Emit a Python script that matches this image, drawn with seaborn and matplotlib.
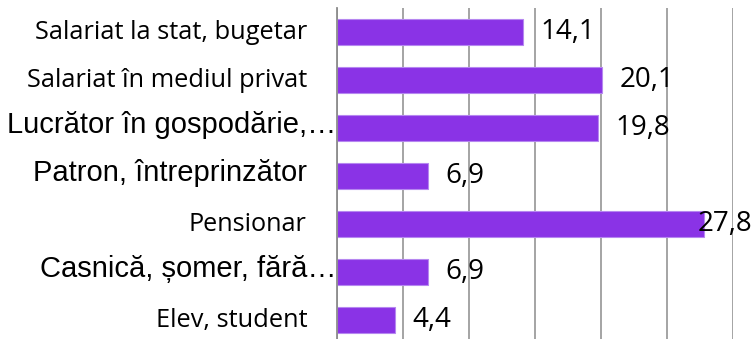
import matplotlib
matplotlib.use("Agg")
import matplotlib.pyplot as plt
import matplotlib.transforms as mtransforms
import seaborn as sns
import pandas as pd

categories = [
    "Salariat la stat, bugetar",
    "Salariat în mediul privat",
    "Lucrător în gospodărie,…",
    "Patron, întreprinzător",
    "Pensionar",
    "Casnică, șomer, fără…",
    "Elev, student",
]
values = [14.1, 20.1, 19.8, 6.9, 27.8, 6.9, 4.4]
value_labels = ["14,1", "20,1", "19,8", "6,9", "27,8", "6,9", "4,4"]
# category labels mix two faces; the truncated ones run up to the axis
label_fonts = ["Open Sans", "Open Sans", "Liberation Sans", "Liberation Sans", "Open Sans", "Liberation Sans", "Open Sans"]
label_sizes = [18.3, 18.3, 21, 21, 18.2, 21, 18.3]
label_pads = [30, 30, 1, 30, 31, 1, 29]
label_lift = {"Open Sans": 0.0, "Liberation Sans": 0.03}

sns.set_style("white")
plt.rcParams["font.family"] = ["Open Sans", "DejaVu Sans"]

df = pd.DataFrame({"cat": categories, "val": values})

fig = plt.figure(figsize=(7.55, 3.39), dpi=100)
ax = fig.add_axes([337 / 755, 1 - 344 / 339, (733 - 337) / 755, 336 / 339])

sns.barplot(data=df, x="val", y="cat", orient="h", color="#8A33E6",
            saturation=1, width=0.54, edgecolor="#B687F0", linewidth=0.8, ax=ax)

ax.set_xlim(0, 30)
ax.set_ylim(6.5, -0.5)
ax.set_xticks([0, 5, 10, 15, 20, 25, 30])
ax.set_xticklabels([])
ax.set_yticks(range(len(categories)))
ax.set_yticklabels([])
ax.tick_params(length=0)
ax.set_xlabel("")
ax.set_ylabel("")
ax.grid(axis="x", color="#8C8C8C", linewidth=1.1)
ax.set_axisbelow(True)
for side in ["top", "right", "bottom"]:
    ax.spines[side].set_visible(False)
ax.spines["left"].set_color("#8C8C8C")
ax.spines["left"].set_linewidth(1.3)
ax.spines["left"].set_zorder(3)

ytrans = mtransforms.blended_transform_factory(ax.transAxes, ax.transData)
for i, (cat, fam, sz, pad) in enumerate(zip(categories, label_fonts, label_sizes, label_pads)):
    off = mtransforms.ScaledTranslation(-pad / 100, label_lift[fam], fig.dpi_scale_trans)
    ax.text(0, i, cat, transform=ytrans + off, ha="right", va="center",
            fontsize=sz, family=[fam, "DejaVu Sans"], color="#000000")

# value labels to the right of each bar, kept inside the figure
fig.canvas.draw()
renderer = fig.canvas.get_renderer()
for i, (v, lab) in enumerate(zip(values, value_labels)):
    off = mtransforms.ScaledTranslation(17 / 100, 0, fig.dpi_scale_trans)
    t = ax.text(v, i, lab, transform=ax.transData + off, ha="left", va="center",
                fontsize=20, color="#000000")
    bb = t.get_window_extent(renderer)
    limit = fig.bbox.width - 3
    if bb.x1 > limit:
        shift = (bb.x1 - limit) / 100
        t.set_transform(ax.transData + mtransforms.ScaledTranslation(17 / 100 - shift, 0, fig.dpi_scale_trans))

fig.savefig("out.png", dpi=100, facecolor="white")
